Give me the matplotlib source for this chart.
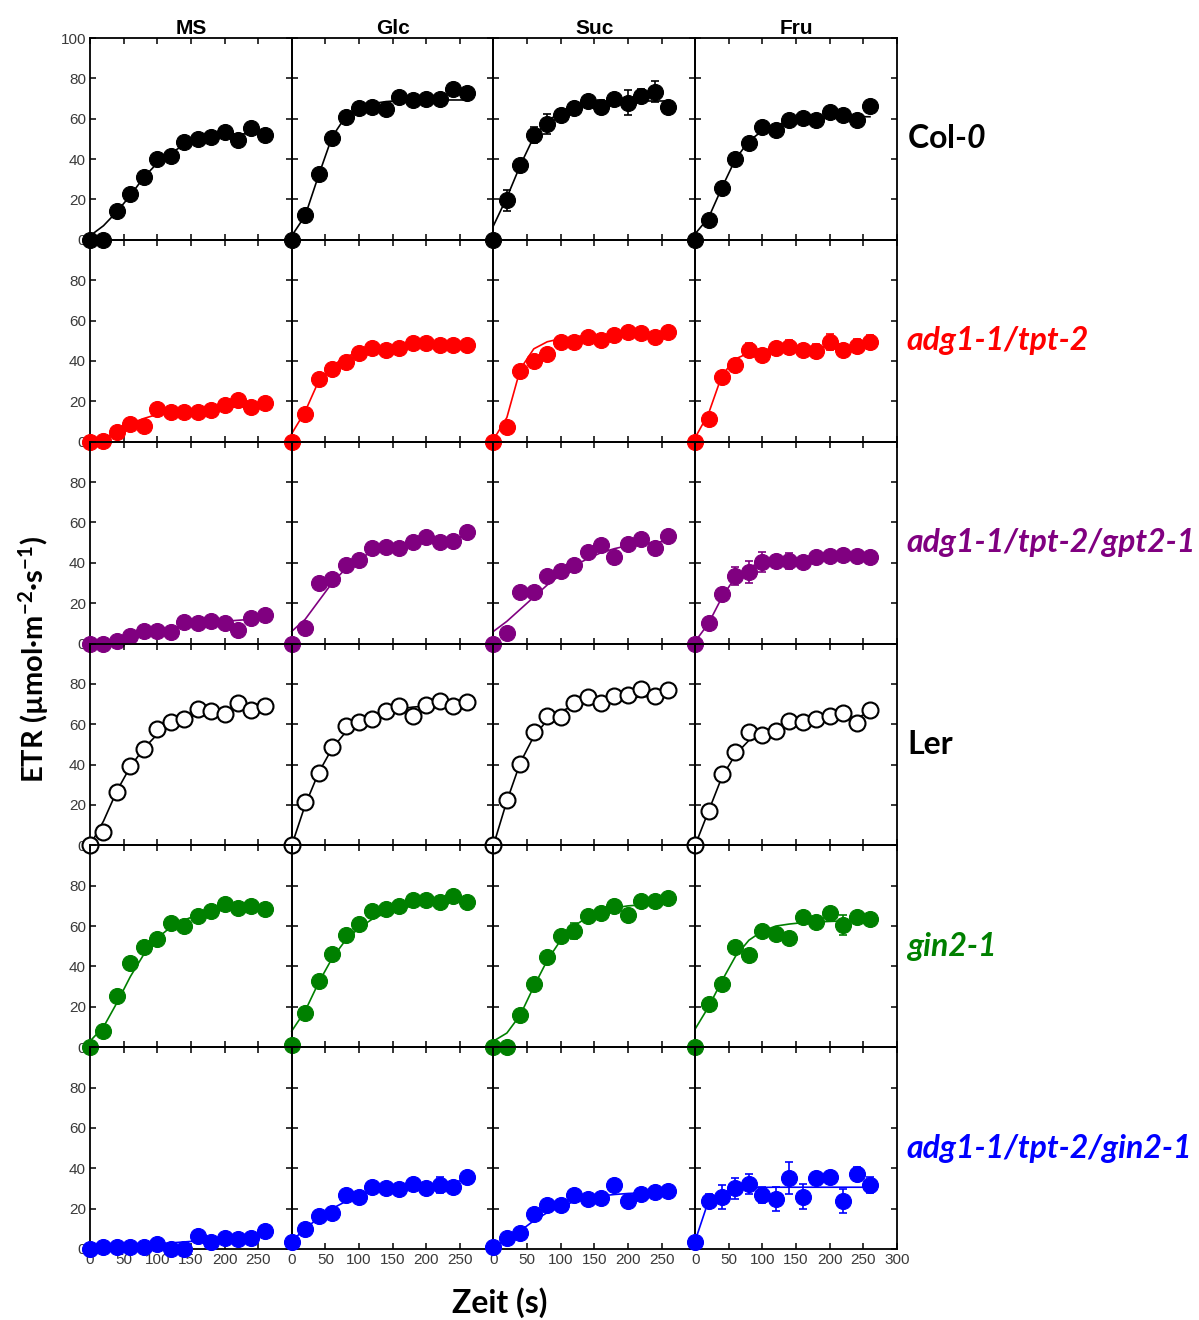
import matplotlib.pyplot as plt
import numpy as np

# time points (s)
t = [0, 20, 40, 60, 80, 100, 120, 140, 160, 180, 200, 220, 240, 260]

media = ["MS", "Glc", "Suc", "Fru"]
lines = ["Col-0", "adg1-1/tpt-2", "adg1-1/tpt-2/gpt2-1", "Ler", "gin2-1", "adg1-1/tpt-2/gin2-1"]
colors = ["black", "#ff0000", "#800080", "black", "#008000", "#0000ff"]

# measured ETR values, one list per line, one row per medium (MS, Glc, Suc, Fru)
col0 = [
    [0, 0, 14.5, 22.5, 31, 40, 41.5, 48.5, 50, 51, 53.5, 49.5, 55.5, 52],
    [0, 12.5, 32.5, 50.5, 61, 65.5, 66, 65, 71, 69.5, 70, 70, 74.5, 73],
    [0, 19.5, 37, 52, 57.5, 62, 65.5, 69, 66, 70, 68, 71.5, 73.5, 66],
    [0, 10, 25.5, 40, 48, 56, 54.5, 59.5, 60.5, 59.5, 63.5, 62, 59.5, 66.5],
]
adg = [
    [0, 0.5, 5, 9, 8, 16, 14.5, 14.5, 14.5, 15.5, 18, 20.5, 17, 19],
    [0, 13.5, 31, 36, 39.5, 44, 46.5, 45.5, 46.5, 49, 49, 48, 48, 48],
    [0, 7.5, 35, 40, 43.5, 49.5, 49.5, 52, 50.5, 53, 54.5, 54, 52, 54.5],
    [0, 11, 32, 38, 45.5, 43, 46.5, 47, 45.5, 45, 49.5, 45.5, 47.5, 49.5],
]
adg_gpt = [
    [0, 0, 1.2, 3.8, 6.3, 6.3, 5.8, 10.8, 10.3, 11, 10, 6.6, 12.5, 14],
    [0, 7.5, 30, 32, 39, 41.5, 47.5, 48, 47.5, 50.5, 53, 50.5, 51, 55],
    [0, 5, 25.5, 25.5, 33.5, 36, 39, 45.5, 49, 43, 49.5, 52, 47.5, 53.5],
    [0, 10, 24.5, 33.5, 35.5, 40.5, 41, 41, 40.5, 43, 43.5, 44, 43.5, 43],
]
ler = [
    [0, 6.5, 26.5, 39.5, 47.5, 57.5, 61, 62.5, 67.5, 66.5, 65, 70.5, 67, 69],
    [0, 21.5, 36, 48.5, 59, 61, 62.5, 66.5, 69, 64, 69.5, 71.5, 69, 71],
    [0, 22.5, 40.5, 56, 64, 63.5, 70.5, 73.5, 70.5, 74, 74.5, 77.5, 74, 77],
    [0, 17, 35.5, 46, 56, 54.5, 56.5, 61.5, 61, 62.5, 64, 65.5, 60.5, 67],
]
gin = [
    [0, 8, 25.5, 41.5, 49.5, 53.5, 61.5, 60, 65, 67.5, 71, 69, 70, 68.5],
    [1, 17, 33, 46, 55.5, 61, 67.5, 68.5, 70, 73, 73, 72, 75, 72],
    [0, 0, 16, 31.5, 44.5, 55, 57.5, 65, 66.5, 70, 65.5, 72.5, 72.5, 74],
    [0, 21.5, 31.5, 49.5, 45.5, 57.5, 56, 54, 64.5, 62, 66.5, 60.5, 64.5, 63.5],
]
adg_gin = [
    [0, 0.8, 1.2, 0.8, 0.8, 2.5, 0, 0, 6.5, 3.6, 5.6, 5, 5.6, 9],
    [3.6, 9.8, 16.5, 17.7, 26.5, 25.7, 30.5, 30, 29.5, 32, 30, 31.5, 30.5, 35.5],
    [0.8, 5.6, 7.8, 17.3, 22, 21.6, 26.8, 25, 25.5, 31.5, 24, 27.2, 28, 28.8],
    [3.6, 24, 25.8, 30, 32.3, 26.6, 24.6, 35, 26, 35, 35.5, 23.8, 37.3, 31.7],
]

# standard errors where visible
err_col0_suc = [0, 5, 1, 4, 5, 3, 3, 2, 3.5, 2, 6, 3, 5, 2.5]
err_adg_fru = [0, 1, 1, 3, 3.5, 3, 3, 3.5, 3, 3.5, 4, 3, 3.5, 3.5]
err_gpt_glc = [0, 1, 1, 1, 1, 1, 1, 1, 1, 1, 1, 2.5, 3, 3]
err_gpt_fru = [0, 1, 2, 4.5, 5.5, 5, 3, 4, 2, 2, 2, 3, 2, 1]
err_gin_suc = [0, 0, 1, 1, 1, 2, 4, 2, 2.5, 3, 2, 2, 1, 2]
err_gin_fru = [0, 1, 1, 1, 1, 1, 1, 1, 1, 2.5, 1, 5, 1, 1]
err_gin_glc2 = [0, 1, 1, 1, 1, 1, 1, 1, 1, 1, 1, 4, 1, 1]
err_adgin_fru = [0, 3, 6, 5, 5, 4, 6, 8, 6, 3, 3, 6, 3.5, 4]

# fitted curves as drawn in the original, read at the same time points
fit_col0 = [
    [2, 7, 14, 22, 31, 38, 43, 47, 49.5, 51, 52, 52.5, 52.5, 52.5],
    [2, 12, 32, 51, 61, 65.5, 67.5, 68.5, 69, 69, 69.2, 69.3, 69.3, 69.3],
    [7, 21, 37, 51, 59, 63, 65.5, 67, 68, 68.5, 68.7, 68.8, 68.8, 68.8],
    [3, 11, 26, 40, 49, 54, 57, 58.5, 59.5, 60, 60.5, 60.8, 61, 61],
]
fit_adg = [
    [0, 1.5, 5, 9, 11.5, 13.5, 14.5, 15.2, 15.8, 16.3, 16.8, 17.2, 17.6, 18],
    [4, 15, 30, 37.5, 42, 44.5, 46, 47, 47.6, 48, 48.2, 48.3, 48.4, 48.4],
    [1, 12, 36, 46, 49.5, 51, 52, 52.5, 52.8, 53, 53.2, 53.3, 53.3, 53.3],
    [2, 14, 33, 41, 44, 45.5, 46.2, 46.6, 46.8, 46.9, 47, 47, 47, 47],
]
fit_adg_gpt = [
    [0, 0.5, 1.5, 3, 5, 6.5, 7.5, 8.5, 9.5, 10.5, 11, 11.5, 12, 13],
    [6, 12, 21, 30, 37, 42, 45.5, 48, 49.5, 50.5, 51.3, 52, 52.5, 53],
    [6, 11, 17, 23, 29, 34, 38.5, 42, 45, 47, 48.5, 49.5, 50, 51],
    [1, 10, 23, 33, 38, 40, 41, 41.5, 42, 42.3, 42.5, 42.7, 42.8, 42.9],
]
fit_ler = [
    [0, 12, 27, 39, 48, 55, 60, 63, 65, 66.5, 67.5, 68, 68.3, 68.5],
    [0, 20, 36, 48, 56, 61, 64, 66, 67.5, 68.5, 69, 69.5, 69.8, 70],
    [0, 22, 41, 54, 62, 66.5, 69, 71, 72, 72.5, 73, 73.5, 74, 77],
    [0, 17, 34, 45, 52, 56, 58.5, 60, 61, 61.8, 62.4, 62.8, 63.2, 66],
]
fit_gin = [
    [3, 10, 22, 35, 46, 54, 59.5, 63, 65.5, 67, 68, 68.5, 68.7, 68.8],
    [8, 18, 32, 44, 53, 59, 63.5, 66.5, 68.5, 70, 71, 71.7, 72.2, 72.5],
    [3, 7, 16, 30, 43, 53, 60, 64.5, 67.3, 69, 70, 70.5, 70.8, 71],
    [9, 20, 33, 45, 53, 57.5, 60, 61, 61.7, 62, 62.3, 62.5, 62.5, 62.5],
]
fit_adg_gin = [
    [0, 0.5, 1, 1.5, 2, 2.5, 3, 3.5, 4, 4.5, 5, 5.5, 6, 7],
    [4, 10, 15.5, 20, 23.5, 26.5, 28.5, 30, 31, 31.5, 32, 32.5, 33, 34.5],
    [1, 4.5, 9, 14, 18, 21, 23.5, 25, 26.3, 27, 27.5, 27.8, 28, 28.2],
    [4, 24, 28, 29.5, 30.2, 30.5, 30.6, 30.6, 30.6, 30.6, 30.6, 30.6, 30.6, 30.6],
]

data = [col0, adg, adg_gpt, ler, gin, adg_gin]
fits = [fit_col0, fit_adg, fit_adg_gpt, fit_ler, fit_gin, fit_adg_gin]
errs = {(0, 2): err_col0_suc, (1, 3): err_adg_fru, (2, 1): err_gpt_glc,
        (2, 3): err_gpt_fru, (4, 2): err_gin_suc, (4, 3): err_gin_fru,
        (5, 1): err_gin_glc2, (5, 3): err_adgin_fru}

plt.rcParams['font.family'] = ['Liberation Sans', 'DejaVu Sans']
plt.rcParams['mathtext.fontset'] = 'custom'
plt.rcParams['mathtext.rm'] = 'Lato:bold'
plt.rcParams['mathtext.bf'] = 'Lato:bold'
plt.rcParams['mathtext.it'] = 'Lato:bold:italic'
plt.rcParams['mathtext.bfit'] = 'Lato:bold:italic'

fig, axes = plt.subplots(6, 4, figsize=(11.99, 13.2), dpi=100)
fig.subplots_adjust(left=0.0751, right=0.748, top=0.9712, bottom=0.0538,
                    wspace=0, hspace=0)

for r in range(6):
    for c in range(4):
        ax = axes[r, c]
        ax.patch.set_visible(False)
        col = colors[r]
        ax.plot(t, fits[r][c], color=col, lw=1.2, zorder=2, clip_on=False)
        face = 'white' if r == 3 else col
        e = errs.get((r, c))
        if e is not None:
            ax.errorbar(t, data[r][c], yerr=e, fmt='none', ecolor=col,
                        elinewidth=1.2, capsize=3, capthick=1.2, zorder=3,
                        clip_on=False)
        ax.plot(t, data[r][c], 'o', ms=11.5, mfc=face, mec=col,
                mew=1.5 if r == 3 else 0.8, zorder=4, clip_on=False)
        ax.set_xlim(0, 300)
        ax.set_ylim(0, 100)
        ax.set_xticks(np.arange(0, 301, 50))
        ax.set_yticks(np.arange(0, 101, 20))
        ax.tick_params(direction='in', length=4, width=1.1, top=True,
                       right=True, labelsize=11, labelcolor='#3a3a3a', pad=3)
        for s in ax.spines.values():
            s.set_linewidth(1.3)
        if r < 5:
            ax.set_xticklabels([])
        elif c < 3:
            ax.set_xticklabels(['0', '50', '100', '150', '200', '250', ''])
        if c > 0:
            ax.set_yticklabels([])
        elif r > 0:
            ax.set_yticklabels(['0', '20', '40', '60', '80', ''])
        if r == 0:
            ax.set_title(media[c], fontsize=15, fontweight='bold', pad=1)

# row labels
for r in range(6):
    ax = axes[r, 3]
    kw = dict(transform=ax.transAxes, fontsize=23, fontweight='bold',
              color=colors[r], va='center', ha='left', family='Lato')
    if r == 0:
        ax.text(1.05, 0.5, r"Col-$\mathbfit{0}$", **kw)
    elif r == 3:
        ax.text(1.05, 0.5, "Ler", **kw)
    else:
        ax.text(1.05, 0.5, lines[r], style='italic', **kw)

fig.text(0.028, 0.5, r"ETR (µmol·m$^{-2}$·s$^{-1}$)", rotation=90,
         fontsize=21, fontweight='bold', va='center', ha='center', family='Lato')
fig.text(0.417, 0.013, "Zeit (s)", fontsize=23, fontweight='bold',
         ha='center', va='center', family='Lato')

plt.savefig("out.png", dpi=100)
